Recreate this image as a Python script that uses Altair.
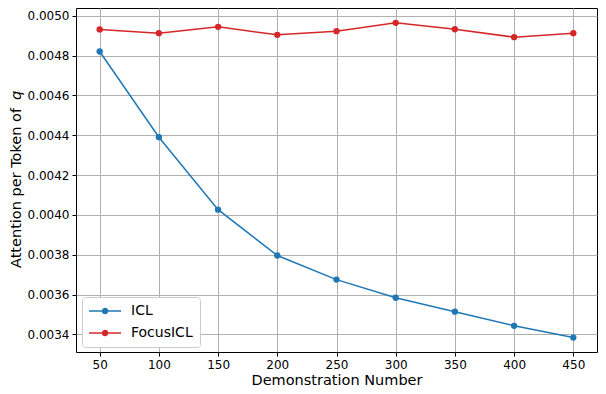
import altair as alt
import pandas as pd

demo_numbers = [50, 100, 150, 200, 250, 300, 350, 400, 450]
icl_values = [0.00482, 0.00439, 0.004026, 0.003796, 0.003675, 0.003584, 0.003514, 0.003443, 0.003384]
focus_values = [0.004931, 0.004912, 0.004944, 0.004904, 0.004922, 0.004964, 0.004932, 0.004892, 0.004912]
series_names = ["ICL", "FocusICL"]
series_colors = ["#1f77b4", "#d62728"]
y_ticks = [0.0034, 0.0036, 0.0038, 0.0040, 0.0042, 0.0044, 0.0046, 0.0048, 0.0050]

df = pd.DataFrame({
    "x": demo_numbers * 2,
    "y": icl_values + focus_values,
    "series": [series_names[0]] * len(demo_numbers) + [series_names[1]] * len(demo_numbers),
})

FONT = "DejaVu Sans"
W, H = 521, 344

# legend glyph: a line with a dot, in units of 6px (symbolSize 144)
legend_path = ("M-1.167,0 L4.167,0 "
               "M1.333,0 A0.167,0.167 0 1,0 1.667,0 A0.167,0.167 0 1,0 1.333,0 "
               "M1.1,0 A0.4,0.4 0 1,0 1.9,0 A0.4,0.4 0 1,0 1.1,0")

base = alt.Chart(df).encode(
    x=alt.X("x:Q", scale=alt.Scale(domain=[30, 470], nice=False, zero=False),
            axis=alt.Axis(values=demo_numbers, title="Demonstration Number", format="d")),
    y=alt.Y("y:Q", scale=alt.Scale(domain=[0.0033115, 0.0050385], nice=False, zero=False),
            axis=alt.Axis(values=y_ticks, format=".4f", title=None)),
    color=alt.Color("series:N", scale=alt.Scale(domain=series_names, range=series_colors),
                    legend=alt.Legend(title=None, orient="none", legendX=6, legendY=289,
                                      symbolType=legend_path, symbolSize=144,
                                      symbolStrokeWidth=1.5, labelFontSize=14,
                                      labelFont=FONT, labelColor="black",
                                      labelOffset=28, rowPadding=8,
                                      padding=7, strokeColor="#cccccc",
                                      fillColor="white", cornerRadius=3)),
    order=alt.Order("x:Q"),
)

lines = base.mark_line(strokeWidth=1.5, point=alt.OverlayMarkDef(filled=True, size=40, opacity=1))

title_df = pd.DataFrame({"t": ["Attention per Token of "], "q": ["q"]})
title_main = alt.Chart(title_df).mark_text(
    angle=270, align="left", baseline="middle", font=FONT, fontSize=14.5, color="black"
).encode(text="t:N", x=alt.value(-59), y=alt.value(260))
title_q = alt.Chart(title_df).mark_text(
    angle=270, align="left", baseline="middle", font=FONT, fontSize=14.5, fontStyle="italic", color="black"
).encode(text="q:N", x=alt.value(-59), y=alt.value(92))

chart = alt.layer(lines, title_main, title_q).properties(
    width=W, height=H,
    autosize=alt.AutoSizeParams(type="none"),
    padding={"left": 68, "top": 0, "right": 1, "bottom": 34},
).configure_view(
    stroke="black", strokeWidth=1
).configure_axis(
    grid=True, gridColor="#b0b0b0", gridWidth=1,
    domain=False, tickColor="black", tickSize=4, tickWidth=1,
    labelFont=FONT, labelFontSize=12, labelColor="black", labelPadding=3,
    titleFont=FONT, titleFontSize=14.5, titleColor="black", titleFontWeight="normal",
).configure_axisX(titlePadding=3, labelFlush=False).configure_axisY(labelFlush=False)

chart.save("out.html", embed_options={"renderer": "svg", "actions": False})
